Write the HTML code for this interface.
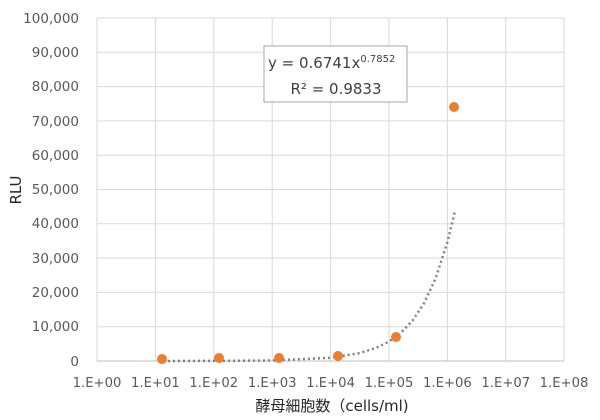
<!DOCTYPE html>
<html><head><meta charset="utf-8"><style>
html,body{margin:0;padding:0;background:#fff;}
svg{display:block;font-family:"DejaVu Sans","Noto Sans CJK JP",sans-serif;}
</style></head><body>
<svg width="600" height="420" viewBox="0 0 600 420" xmlns="http://www.w3.org/2000/svg">
<rect width="600" height="420" fill="#fff"/>
<g stroke="#d9d9d9" stroke-width="1">
<line x1="97" y1="18" x2="564" y2="18"/>
<line x1="97" y1="52.3" x2="564" y2="52.3"/>
<line x1="97" y1="86.6" x2="564" y2="86.6"/>
<line x1="97" y1="120.9" x2="564" y2="120.9"/>
<line x1="97" y1="155.2" x2="564" y2="155.2"/>
<line x1="97" y1="189.5" x2="564" y2="189.5"/>
<line x1="97" y1="223.8" x2="564" y2="223.8"/>
<line x1="97" y1="258.1" x2="564" y2="258.1"/>
<line x1="97" y1="292.4" x2="564" y2="292.4"/>
<line x1="97" y1="326.7" x2="564" y2="326.7"/>
<line x1="97" y1="18" x2="97" y2="361"/>
<line x1="155.4" y1="18" x2="155.4" y2="361"/>
<line x1="213.8" y1="18" x2="213.8" y2="361"/>
<line x1="272.2" y1="18" x2="272.2" y2="361"/>
<line x1="330.6" y1="18" x2="330.6" y2="361"/>
<line x1="389" y1="18" x2="389" y2="361"/>
<line x1="447.4" y1="18" x2="447.4" y2="361"/>
<line x1="505.8" y1="18" x2="505.8" y2="361"/>
<line x1="564" y1="18" x2="564" y2="361"/>
</g>
<line x1="97" y1="361" x2="564" y2="361" stroke="#bfbfbf" stroke-width="1"/>
<g fill="#595959" font-size="13.5" text-anchor="end">
<text x="79" y="23">100,000</text>
<text x="79" y="57">90,000</text>
<text x="79" y="91">80,000</text>
<text x="79" y="126">70,000</text>
<text x="79" y="160">60,000</text>
<text x="79" y="194">50,000</text>
<text x="79" y="228">40,000</text>
<text x="79" y="263">30,000</text>
<text x="79" y="297">20,000</text>
<text x="79" y="331">10,000</text>
<text x="79" y="366">0</text>
</g>
<g fill="#595959" font-size="13.2" text-anchor="middle">
<text x="97" y="387">1.E+00</text>
<text x="155.4" y="387">1.E+01</text>
<text x="213.8" y="387">1.E+02</text>
<text x="272.2" y="387">1.E+03</text>
<text x="330.6" y="387">1.E+04</text>
<text x="389" y="387">1.E+05</text>
<text x="447.4" y="387">1.E+06</text>
<text x="505.8" y="387">1.E+07</text>
<text x="564" y="387">1.E+08</text>
</g>
<text x="332" y="411" font-size="15" fill="#262626" text-anchor="middle">酵母細胞数（cells/ml)</text>
<text transform="translate(21,190) rotate(-90)" font-size="15" fill="#262626" text-anchor="middle">RLU</text>
<polyline fill="none" stroke="#808080" stroke-width="2.5" stroke-dasharray="2,3"
points="163,361 213.8,360.9 272.2,360.5 330.6,357.8 359.8,353.1 377.3,347.4 389,341.5 400.7,333 412.4,320.8 424.0,303.3 435.7,278.2 447.4,242.1 453.2,218.4 455,210.6"/>
<g fill="#ed7d31">
<circle cx="162" cy="359" r="5"/>
<circle cx="219" cy="358" r="5"/>
<circle cx="279" cy="358" r="5"/>
<circle cx="338" cy="356" r="5"/>
<circle cx="396" cy="337" r="5"/>
<circle cx="454" cy="107" r="5"/>
</g>
<rect x="264" y="46" width="143" height="56" fill="#fff" stroke="#a6a6a6" stroke-width="1"/>
<text x="268" y="68" font-size="15" fill="#404040">y = 0.6741x<tspan font-size="10" dy="-6">0.7852</tspan></text>
<text x="336" y="94" font-size="15" fill="#404040" text-anchor="middle">R² = 0.9833</text>
</svg>
</body></html>
